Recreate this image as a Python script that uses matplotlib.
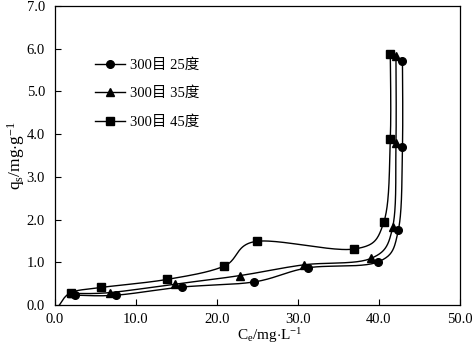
import numpy as np
import matplotlib
matplotlib.use("Agg")
import matplotlib.pyplot as plt
from matplotlib.lines import Line2D

# data
x25 = [2.5, 7.6, 15.7, 24.6, 31.2, 39.9, 42.4, 42.9, 42.9]
y25 = [0.23, 0.23, 0.42, 0.54, 0.87, 1.01, 1.76, 3.71, 5.72]
x35 = [2.1, 6.8, 14.9, 22.9, 30.7, 39.0, 41.7, 42.1, 42.1]
y35 = [0.27, 0.29, 0.49, 0.69, 0.94, 1.09, 1.83, 3.79, 5.82]
x45 = [0.5, 2.0, 5.7, 13.9, 20.9, 24.9, 36.9, 40.6, 41.4, 41.4]
y45 = [-0.02, 0.29, 0.41, 0.60, 0.91, 1.49, 1.31, 1.94, 3.88, 5.87]
labels = ["300目 25度", "300目 35度", "300目 45度"]
xticks = [0, 10, 20, 30, 40, 50]
yticks = [0, 1, 2, 3, 4, 5, 6, 7]

fam = ["Liberation Serif", "Noto Sans CJK SC"]
plt.rcParams["font.family"] = fam
plt.rcParams["mathtext.fontset"] = "custom"
plt.rcParams["mathtext.rm"] = "Liberation Serif"
plt.rcParams["mathtext.it"] = "Liberation Serif"

fig = plt.figure(figsize=(4.72, 3.46), dpi=100)
W, H = 472, 346
ax = fig.add_axes([54.7 / W, 1 - 305 / H, (460 - 54.7) / W, (305 - 6) / H])
ax.set_xlim(0, 50)
ax.set_ylim(0, 7)


def smooth(xs, ys, n=40):
    pts = ax.transData.transform(np.column_stack([xs, ys]))
    P = np.vstack([pts[0], pts, pts[-1]])
    out = []
    for i in range(1, len(P) - 2):
        p0, p1, p2, p3 = P[i - 1], P[i], P[i + 1], P[i + 2]
        c1 = p1 + (p2 - p0) / 6.0
        c2 = p2 - (p3 - p1) / 6.0
        t = np.linspace(0, 1, n)[:, None]
        seg = ((1 - t) ** 3) * p1 + 3 * ((1 - t) ** 2) * t * c1 + 3 * (1 - t) * t ** 2 * c2 + t ** 3 * p2
        out.append(seg if i == 1 else seg[1:])
    out = np.vstack(out)
    d = ax.transData.inverted().transform(out)
    return d[:, 0], d[:, 1]


series = [(x25, y25, "o", 5.5, 0), (x35, y35, "^", 6, 0), (x45, y45, "s", 5.5, 1)]
handles = []
for (xs, ys, m, ms, skip), lab in zip(series, labels):
    sx, sy = smooth(xs, ys)
    ax.plot(sx, sy, color="black", lw=1.0)
    ax.plot(xs[skip:], ys[skip:], linestyle="none", marker=m, ms=ms, color="black")
    handles.append(Line2D([], [], color="black", lw=1.0, marker=m, ms=ms))

ax.set_xticks(xticks)
ax.set_xticklabels([f"{v:.1f}" for v in xticks])
ax.set_yticks(yticks)
ax.set_yticklabels([f"{v:.1f}" for v in yticks])
ax.tick_params(direction="in", length=4, width=0.8, labelsize=10.5, top=False, right=False)
ax.tick_params(axis="x", pad=6)
ax.tick_params(axis="y", pad=7)
for s in ax.spines.values():
    s.set_linewidth(0.9)

ax.set_xlabel(r"C$_\mathrm{e}$/mg$\cdot$L$^{-1}$", fontsize=11)
ax.xaxis.set_label_coords(0.53, -0.072)
ax.set_ylabel(r"q$_\mathrm{s}$/mg$\cdot$g$^{-1}$", fontsize=12.5, labelpad=0)

leg = ax.legend(handles, labels, loc="upper left", bbox_to_anchor=(0.067, 0.87), frameon=False,
                handlelength=2.05, labelspacing=1.03, handletextpad=0.35,
                prop={"family": fam, "size": 10.5})

fig.savefig("out.png", dpi=100)
